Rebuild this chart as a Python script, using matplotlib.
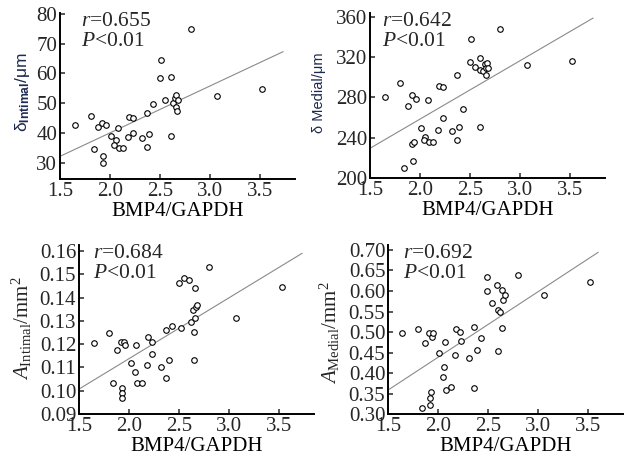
"""Four scatter panels: vessel wall measures versus BMP4/GAPDH."""

import matplotlib

matplotlib.use("Agg")
import matplotlib.pyplot as plt

# ---- data ------------------------------------------------------------------
INT_THK_X = [1.654, 1.805, 1.844, 1.884, 1.92, 1.959, 1.926, 1.926, 2.011, 2.057,
             2.04, 2.08, 2.09, 2.128, 2.18, 2.187, 2.23, 2.23, 2.32, 2.369,
             2.369, 2.39, 2.434, 2.5, 2.507, 2.549, 2.605, 2.605, 2.631, 2.648,
             2.657, 2.664, 2.67, 2.68, 2.805, 3.074, 3.523]
INT_THK_Y = [42.8, 45.9, 34.5, 41.9, 43.4, 42.8, 32.2, 30.0, 38.9, 37.8,
             35.9, 41.7, 35.0, 35.0, 38.7, 45.4, 44.9, 40.0, 38.4, 46.9,
             35.2, 39.8, 49.7, 58.4, 64.5, 51.2, 58.7, 38.9, 50.0, 51.7,
             52.8, 48.9, 47.3, 51.2, 74.8, 52.5, 54.7]

MED_THK_X = [1.648, 1.805, 1.844, 1.884, 1.916, 1.959, 1.92, 1.926, 1.936, 2.011,
             2.05, 2.04, 2.08, 2.09, 2.128, 2.18, 2.187, 2.23, 2.23, 2.32,
             2.369, 2.369, 2.39, 2.434, 2.5, 2.507, 2.549, 2.605, 2.605, 2.6,
             2.631, 2.648, 2.657, 2.664, 2.67, 2.68, 2.805, 3.074, 3.523]
MED_THK_Y = [280.8, 294.7, 210.5, 271.6, 282.5, 278.5, 234.0, 217.5, 236.3, 250.1,
             241.2, 237.9, 277.5, 236.3, 236.3, 247.8, 291.4, 290.1, 260.0, 247.2,
             302.3, 237.9, 251.1, 268.3, 314.8, 338.2, 310.5, 319.4, 251.1, 307.2,
             306.2, 312.8, 309.5, 302.3, 313.8, 308.9, 347.5, 312.2, 316.5]

INT_AREA_X = [1.654, 1.80, 1.844, 1.877, 1.916, 1.949, 1.959, 1.926, 1.926, 1.926,
              2.015, 2.057, 2.074, 2.08, 2.13, 2.18, 2.187, 2.23, 2.23, 2.32,
              2.369, 2.369, 2.395, 2.434, 2.5, 2.516, 2.549, 2.598, 2.625, 2.64,
              2.664, 2.67, 2.68, 2.657, 2.648, 2.648, 2.80, 3.067, 3.526]
INT_AREA_Y = [0.1204, 0.1246, 0.1032, 0.1175, 0.1211, 0.1208, 0.1196, 0.1010, 0.0989, 0.0967,
              0.1118, 0.1082, 0.1196, 0.1032, 0.1032, 0.1110, 0.1232, 0.1211, 0.1158, 0.1103,
              0.1261, 0.1053, 0.1132, 0.1279, 0.1464, 0.1268, 0.1485, 0.1475, 0.1297, 0.1347,
              0.1311, 0.1361, 0.1368, 0.1440, 0.1251, 0.1132, 0.1531, 0.1311, 0.1444]

MED_AREA_X = [1.64, 1.80, 1.84, 1.874, 1.907, 1.94, 1.953, 1.93, 1.92, 1.92,
              2.01, 2.05, 2.06, 2.07, 2.077, 2.126, 2.169, 2.176, 2.215, 2.225,
              2.313, 2.356, 2.356, 2.389, 2.428, 2.487, 2.494, 2.536, 2.592, 2.595,
              2.60, 2.62, 2.644, 2.65, 2.667, 2.644, 2.799, 3.061, 3.52]
MED_AREA_Y = [0.497, 0.508, 0.316, 0.473, 0.499, 0.489, 0.497, 0.355, 0.339, 0.323,
              0.448, 0.392, 0.416, 0.477, 0.359, 0.367, 0.444, 0.508, 0.500, 0.478,
              0.438, 0.513, 0.365, 0.457, 0.485, 0.600, 0.633, 0.572, 0.615, 0.554,
              0.454, 0.550, 0.603, 0.578, 0.590, 0.511, 0.639, 0.590, 0.623]

# fitted lines: end points as drawn in the figure
INT_THK_FIT_X, INT_THK_FIT_Y = [1.5, 3.73], [32.2, 67.3]
MED_THK_FIT_X, MED_THK_FIT_Y = [1.5, 3.73], [229.7, 358.4]
INT_AREA_FIT_X, INT_AREA_FIT_Y = [1.5, 3.73], [0.1007, 0.159]
MED_AREA_FIT_X, MED_AREA_FIT_Y = [1.5, 3.6], [0.359, 0.694]

STATS_R = ["0.655", "0.642", "0.684", "0.692"]

X_TICKS = [1.5, 2.0, 2.5, 3.0, 3.5]
Y_TICKS_INT_THK = [30, 40, 50, 60, 70, 80]
Y_TICKS_MED_THK = [200, 240, 280, 320, 360]
Y_TICKS_INT_AREA = [0.09, 0.10, 0.11, 0.12, 0.13, 0.14, 0.15, 0.16]
Y_TICKS_MED_AREA = [0.30, 0.35, 0.40, 0.45, 0.50, 0.55, 0.60, 0.65, 0.70]

plt.rcParams.update(
    {
        "font.family": ["Liberation Serif", "DejaVu Serif"],
        "font.size": 15,
        "mathtext.fontset": "custom",
        "mathtext.rm": "Liberation Serif",
        "mathtext.it": "Liberation Serif:italic",
        "mathtext.bf": "Liberation Sans:bold",
        "text.color": "#262626",
        "xtick.color": "#262626",
        "ytick.color": "#262626",
    }
)

LABEL_NAVY = "#1c2950"


def draw_panel(ax, xs, ys, fit_x, fit_y, ylim, yticks, yfmt, r_text, text_x):
    ax.plot(fit_x, fit_y, color="#8a8a8a", linewidth=0.8, zorder=2)
    ax.scatter(xs, ys, s=16, facecolors="white", edgecolors="black",
               linewidths=0.8, zorder=3)
    ax.set_xlim(1.5, 3.85)
    ax.set_ylim(*ylim)
    ax.set_xticks(X_TICKS)
    ax.set_xticklabels([f"{t:.1f}" for t in X_TICKS])
    ax.set_yticks(yticks)
    ax.set_yticklabels([yfmt.format(t) for t in yticks])
    ax.spines[["top", "right"]].set_visible(False)
    ax.spines["left"].set_linewidth(1.4)
    ax.spines["bottom"].set_linewidth(1.4)
    ax.tick_params(direction="in", length=3.5, width=1.1, pad=2, labelsize=15)
    ax.set_xlabel("BMP4/GAPDH", fontsize=15, labelpad=1)
    ax.text(text_x, 1.005, f"$r$={r_text}\n$P$<0.01", transform=ax.transAxes,
            ha="left", va="top", fontsize=15.5, linespacing=1.05)


fig = plt.figure(figsize=(6.29, 4.62), dpi=100)
ax1 = fig.add_axes([0.0954, 0.6126, 0.3736, 0.3593])
ax2 = fig.add_axes([0.5882, 0.6140, 0.3736, 0.3579])
ax3 = fig.add_axes([0.1256, 0.1039, 0.3736, 0.3658])
ax4 = fig.add_axes([0.6169, 0.1032, 0.3736, 0.3665])

draw_panel(ax1, INT_THK_X, INT_THK_Y, INT_THK_FIT_X, INT_THK_FIT_Y,
           (24.6, 80.3), Y_TICKS_INT_THK, "{:.0f}", STATS_R[0], 0.09)
draw_panel(ax2, MED_THK_X, MED_THK_Y, MED_THK_FIT_X, MED_THK_FIT_Y,
           (200, 363.5), Y_TICKS_MED_THK, "{:.0f}", STATS_R[1], 0.05)
draw_panel(ax3, INT_AREA_X, INT_AREA_Y, INT_AREA_FIT_X, INT_AREA_FIT_Y,
           (0.09, 0.1626), Y_TICKS_INT_AREA, "{:.2f}", STATS_R[2], 0.058)
draw_panel(ax4, MED_AREA_X, MED_AREA_Y, MED_AREA_FIT_X, MED_AREA_FIT_Y,
           (0.30, 0.712), Y_TICKS_MED_AREA, "{:.2f}", STATS_R[3], 0.063)

# y labels
fig.text(22 / 629, 1 - 92 / 462, r"δ$_{\mathbf{Intimal}}$/μm", rotation=90,
         ha="center", va="center", fontsize=12.5, color=LABEL_NAVY,
         family=["Liberation Sans", "DejaVu Sans"])
fig.text(319 / 629, 1 - 93 / 462, "δ Medial/μm", rotation=90,
         ha="center", va="center", fontsize=10.5, color=LABEL_NAVY,
         family=["Liberation Sans", "DejaVu Sans"])
fig.text(22 / 629, 1 - 328 / 462, r"$\mathit{A}_{\mathrm{Intimal}}/\mathrm{mm}^{2}$",
         rotation=90, ha="center", va="center", fontsize=15)
fig.text(330 / 629, 1 - 333 / 462, r"$\mathit{A}_{\mathrm{Medial}}/\mathrm{mm}^{2}$",
         rotation=90, ha="center", va="center", fontsize=15)

fig.savefig("out.png", dpi=100)
